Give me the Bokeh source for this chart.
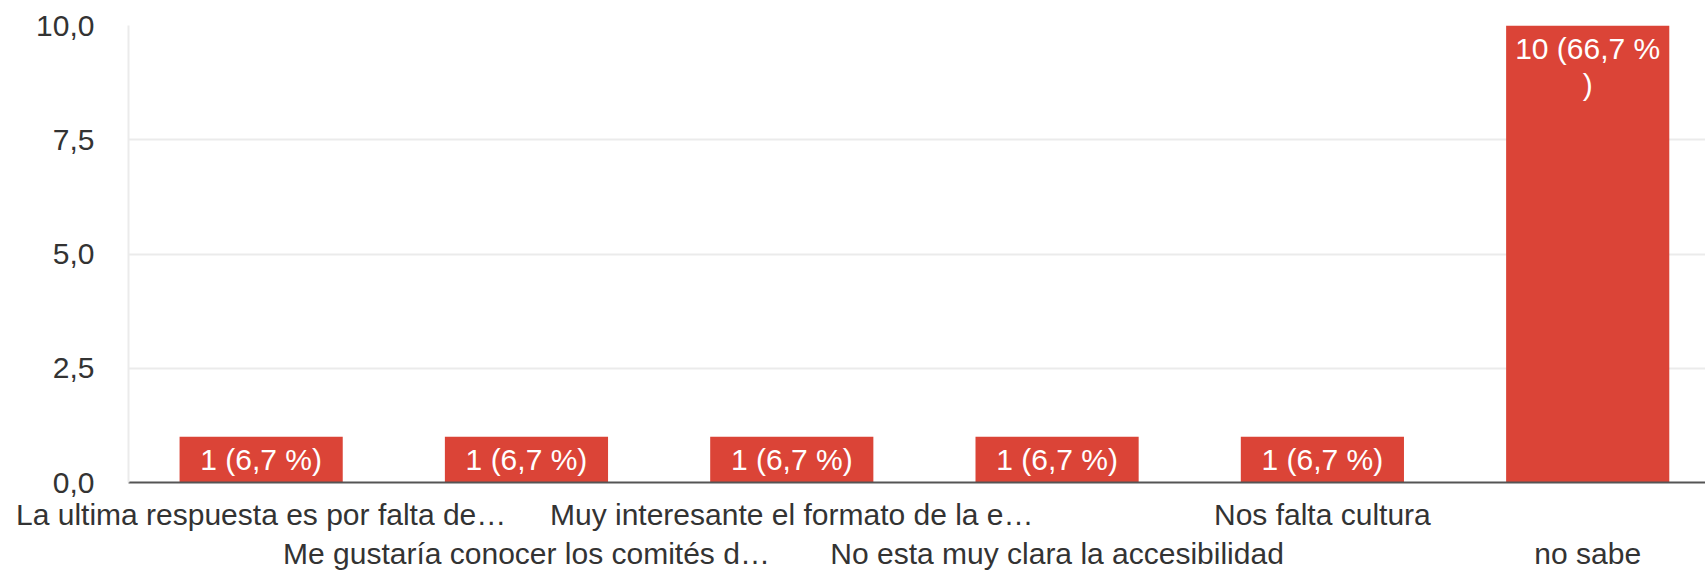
from bokeh.plotting import figure
from bokeh.models import Range1d, LinearAxis, FixedTicker
from bokeh.embed import file_html
from bokeh.resources import INLINE
from bokeh.core.properties import value

categories = [
    "La ultima respuesta es por falta de\u2026",
    "Me gustaría conocer los comités d\u2026",
    "Muy interesante el formato de la e\u2026",
    "No esta muy clara la accesibilidad",
    "Nos falta cultura",
    "no sabe",
]
counts = [1, 1, 1, 1, 1, 10]
bar_labels = ["1 (6,7 %)", "1 (6,7 %)", "1 (6,7 %)", "1 (6,7 %)", "1 (6,7 %)", "10 (66,7 %\n)"]
y_ticks = [0.0, 2.5, 5.0, 7.5, 10.0]
y_tick_labels = ["0,0", "2,5", "5,0", "7,5", "10,0"]

FONT = "Liberation Sans"
FS = "30px"
LABEL_COLOR = "#333333"
BAR_COLOR = "#db4437"

positions = list(range(len(categories)))

p = figure(
    width=1705, height=572,
    x_range=Range1d(-0.5, 5.444), y_range=Range1d(0, 10),
    output_backend="svg", toolbar_location=None,
    x_axis_location=None, y_axis_location="left",
    min_border_left=128, min_border_top=25, min_border_right=0, min_border_bottom=0,
)
p.outline_line_color = None
p.background_fill_color = "white"
p.border_fill_color = "white"

# y axis
yax = p.yaxis[0]
yax.ticker = FixedTicker(ticks=y_ticks)
yax.major_label_overrides = {t: l for t, l in zip(y_ticks, y_tick_labels)}
yax.axis_line_color = "#ebebeb"
yax.axis_line_width = 2
yax.major_tick_line_color = None
yax.minor_tick_line_color = None
yax.major_label_standoff = 28
yax.major_label_text_font = FONT
yax.major_label_text_font_size = FS
yax.major_label_text_color = LABEL_COLOR

p.xgrid.grid_line_color = None
p.ygrid.ticker = FixedTicker(ticks=y_ticks)
p.ygrid.grid_line_color = "#ebebeb"
p.ygrid.grid_line_width = 2

# x axes: staggered labels on two rows
row1 = positions[0::2]
row2 = positions[1::2]
ax_a = LinearAxis(
    ticker=FixedTicker(ticks=row1),
    major_label_overrides={i: categories[i] for i in row1},
)
ax_b = LinearAxis(
    ticker=FixedTicker(ticks=row2),
    major_label_overrides={i: categories[i] for i in row2},
)
for ax in (ax_a, ax_b):
    ax.major_tick_line_color = None
    ax.minor_tick_line_color = None
    ax.major_tick_out = 0
    ax.major_tick_in = 0
    ax.major_label_text_font = FONT
    ax.major_label_text_font_size = FS
    ax.major_label_text_color = LABEL_COLOR
ax_a.axis_line_color = "#555555"
ax_a.axis_line_width = 2
ax_a.major_label_standoff = 15
ax_b.axis_line_color = None
ax_b.major_label_standoff = 3
p.add_layout(ax_a, "below")
p.add_layout(ax_b, "below")

p.vbar(x=positions, top=counts, width=0.615, color=BAR_COLOR, line_color=None)
p.text(
    x=positions, y=counts, text=bar_labels,
    text_align="center", text_baseline="top", y_offset=6,
    text_color="white", text_font=value(FONT), text_font_size=FS,
    text_line_height=1.12,
)

open("out.html", "w").write(file_html(p, INLINE))
